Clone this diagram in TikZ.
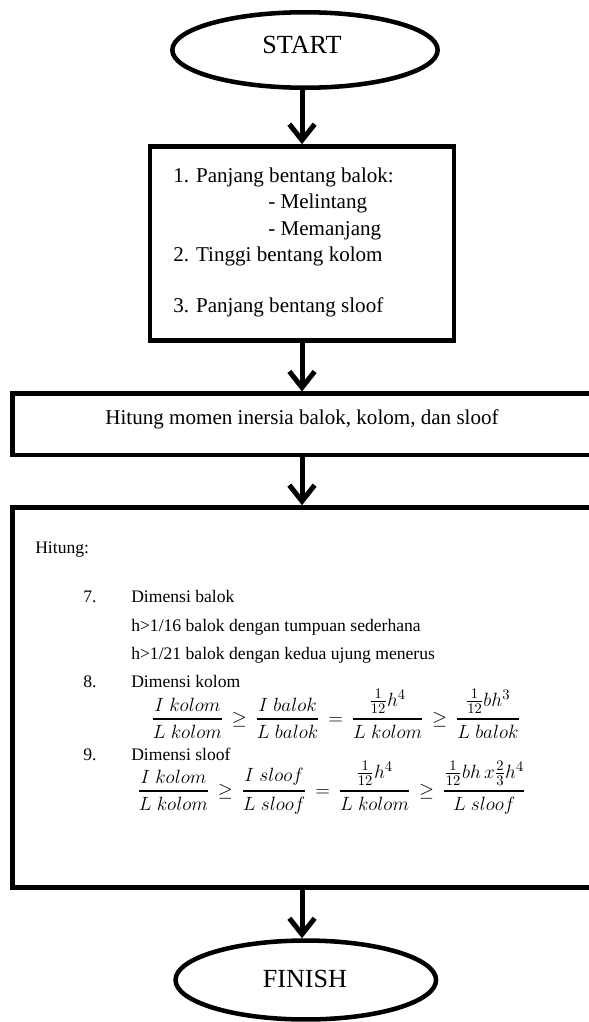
\documentclass[tikz,border=0pt]{standalone}
\usepackage{amsmath}
\usepackage{fontspec}
\setmainfont{Liberation Serif}
\usetikzlibrary{arrows.meta,shapes.geometric}

% fraction with a heavier bar
\newcommand{\hfrac}[2]{\genfrac{}{}{1.3pt}{0}{#1}{#2}}
% relation with a little extra room
\newcommand{\wrel}[1]{\mathrel{\,#1\,}}

\begin{document}
\begin{tikzpicture}[x=0.75pt,y=-0.75pt,
  terminal/.style={draw,ellipse,line width=3.4pt,inner sep=0pt},
  procbox/.style={draw,rectangle,line width=3.5pt,inner sep=0pt},
  flow/.style={line width=3.75pt,-{Straight Barb[length=12pt,width=19pt]}},
  bigtext/.style={font=\fontsize{19.6}{23}\selectfont,inner sep=0pt,anchor=base},
  maintext/.style={font=\fontsize{15.8}{19}\selectfont,inner sep=0pt,anchor=base west},
  smalltext/.style={font=\fontsize{13.2}{16}\selectfont,inner sep=0pt,anchor=base west},
  eqtext/.style={font=\fontsize{15.5}{18}\selectfont,inner sep=0pt,anchor=base west}]

\fill[white] (0,0) rectangle (589,1022);
\useasboundingbox (0,0) rectangle (589,1022);
\begin{scope}
\clip (0,0) rectangle (589,1022);

% terminals
\node[terminal,minimum width=199pt,minimum height=56.6pt] (start) at (305,50) {};
\node[bigtext] (starttext) at (302,53) {START};

\node[terminal,minimum width=195.4pt,minimum height=59.2pt] (finish) at (305.8,980) {};
\node[bigtext] (finishtext) at (305,987) {FINISH};

% process boxes
\node[procbox,minimum width=228pt,minimum height=145.5pt] (box1) at (302,243.5) {};
\node[procbox,minimum width=440.6pt,minimum height=45.9pt] (box2) at (306.25,424.4) {};
\node[procbox,minimum width=440.6pt,minimum height=285pt] (box3) at (306.25,697.5) {};

% input data
\node[maintext] (l1) at (173,182.5) {1. Panjang bentang balok:};
\node[maintext] (l1a) at (268,208.5) {- Melintang};
\node[maintext] (l1b) at (268,235) {- Memanjang};
\node[maintext] (l2) at (173,261) {2. Tinggi bentang kolom};
\node[maintext] (l3) at (173,312) {3. Panjang bentang sloof};

% moment of inertia
\node[font=\fontsize{15.8}{19}\selectfont,inner sep=0pt,anchor=base] (inersia) at (302,424)
  {Hitung momen inersia balok, kolom, dan sloof};

% dimension checks
\node[smalltext] (hitung) at (35,553) {Hitung:};
\node[smalltext] (n7) at (83,602) {7.};
\node[smalltext] (t7) at (131,602) {Dimensi balok};
\node[smalltext] (t7a) at (131,631) {h>1/16 balok dengan tumpuan sederhana};
\node[smalltext] (t7b) at (131,659) {h>1/21 balok dengan kedua ujung menerus};
\node[smalltext] (n8) at (83,687) {8.};
\node[smalltext] (t8) at (131,687) {Dimensi kolom};
\node[eqtext] (eq8) at (151,724)
  {$\displaystyle \hfrac{I\ kolom}{L\ kolom} \wrel{\geq} \hfrac{I\ balok}{L\ balok}
    \wrel{=} \hfrac{\frac{1}{12}h^4}{L\ kolom} \wrel{\geq} \hfrac{\frac{1}{12}bh^3}{L\ balok}$};
\node[smalltext] (n9) at (83,760) {9.};
\node[smalltext] (t9) at (131,760) {Dimensi sloof};
\node[eqtext] (eq9) at (137,796)
  {$\displaystyle \hfrac{I\ kolom}{L\ kolom} \wrel{\geq} \hfrac{I\ sloof}{L\ sloof}
    \wrel{=} \hfrac{\frac{1}{12}h^4}{L\ kolom} \wrel{\geq} \hfrac{\frac{1}{12}bh\,x\frac{2}{3}h^4}{L\ sloof}$};

% flow
\draw[flow] (start.south -| box1.north) -- (box1.north);
\draw[flow] (box1.south) -- (box1.south |- box2.north);
\draw[flow] (box2.south -| box1.south) -- (box3.north -| box1.south);
\draw[flow] (box3.south -| box1.south) -- (finish.north -| box1.south);
\end{scope}
\end{tikzpicture}
\end{document}
